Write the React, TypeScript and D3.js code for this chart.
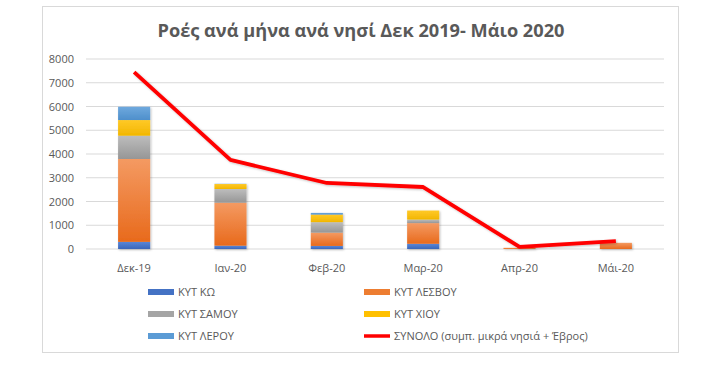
import React from "react";
import * as d3 from "d3";

const categories = ["Δεκ-19", "Ιαν-20", "Φεβ-20", "Μαρ-20", "Απρ-20", "Μάι-20"];
const kos = [300, 140, 130, 220, 0, 0];
const lesvos = [3490, 1810, 560, 870, 50, 260];
const samos = [980, 576, 440, 150, 0, 0];
const chios = [660, 210, 320, 380, 0, 0];
const leros = [560, 10, 70, 0, 0, 0];
const total = [7450, 3750, 2780, 2610, 90, 330];
const yTicks = [0, 1000, 2000, 3000, 4000, 5000, 6000, 7000, 8000];

const seriesNames = ["ΚΥΤ ΚΩ", "ΚΥΤ ΛΕΣΒΟΥ", "ΚΥΤ ΣΑΜΟΥ", "ΚΥΤ ΧΙΟΥ", "ΚΥΤ ΛΕΡΟΥ"];
const lineName = "ΣΥΝΟΛΟ (συμπ. μικρά νησιά + Έβρος)";
const title = "Ροές ανά μήνα ανά νησί Δεκ 2019- Μάιο 2020";

const colors = [
  ["#5A86D6", "#3A66BA"],
  ["#F49A62", "#E86A1C"],
  ["#BDBDBD", "#969696"],
  ["#FFC928", "#F2B600"],
  ["#6FA9DE", "#4E8FCB"],
];
const legendColors = ["#4472C4", "#ED7D31", "#A5A5A5", "#FFC000", "#5B9BD5"];

export default function App() {
  const W = 726, H = 366;
  const x = d3.scaleBand<string>().domain(categories).range([86, 664]).paddingInner(0.667).paddingOuter(0.333);
  const y = d3.scaleLinear().domain([0, 8000]).range([249, 59]);
  const seriesVals = [kos, lesvos, samos, chios, leros];
  const rows = categories.map((c, i) => ({ c, v: seriesVals.map(s => s[i]) }));
  const stack = d3.stack<any>().keys(["0", "1", "2", "3", "4"]).value((d, k) => d.v[+k]);
  const stacked = stack(rows);
  const line = d3.line<number>().x((_, i) => (x(categories[i]) as number) + x.bandwidth() / 2).y(d => y(d));
  const font = "'Open Sans', 'Noto Sans', sans-serif";
  const txt = "#595959";
  const legendItems = [
    { name: seriesNames[0], c: legendColors[0], x: 148, y: 292 },
    { name: seriesNames[1], c: legendColors[1], x: 364, y: 292 },
    { name: seriesNames[2], c: legendColors[2], x: 148, y: 314 },
    { name: seriesNames[3], c: legendColors[3], x: 364, y: 314 },
    { name: seriesNames[4], c: legendColors[4], x: 148, y: 336 },
  ];
  return (
    <svg width={W} height={H} style={{ position: "absolute", left: 0, top: 0, background: "#fff" }} fontFamily={font}>
      <defs>
        {colors.map((c, i) => (
          <linearGradient key={i} id={"g" + i} x1="0" y1="0" x2="0" y2="1">
            <stop offset="0" stopColor={c[0]} />
            <stop offset="1" stopColor={c[1]} />
          </linearGradient>
        ))}
        <filter id="sh" x="-20%" y="-20%" width="140%" height="140%">
          <feDropShadow dx="1" dy="1" stdDeviation="1.2" floodColor="#000" floodOpacity="0.25" />
        </filter>
      </defs>
      <rect x={42.5} y={6.5} width={636} height={346} fill="#fff" stroke="#D9D9D9" strokeWidth={1} />
      <text x={361} y={37} textAnchor="middle" fontSize={18.2} fontWeight={700} fill={txt}>{title}</text>
      {yTicks.map(t => (
        <g key={t}>
          <line x1={86} x2={664} y1={y(t)} y2={y(t)} stroke="#D9D9D9" strokeWidth={1} />
          <text x={74} y={y(t) + 4} textAnchor="end" fontSize={11} fill={txt}>{t}</text>
        </g>
      ))}
      <g filter="url(#sh)">
        {stacked.map((s, si) =>
          s.map((d, i) => {
            const h = y(d[0]) - y(d[1]);
            if (h <= 0) return null;
            return <rect key={si + "-" + i} x={x(categories[i])} y={y(d[1])} width={x.bandwidth()} height={h} fill={`url(#g${si})`} />;
          })
        )}
      </g>
      {categories.map(c => (
        <text key={c} x={(x(c) as number) + x.bandwidth() / 2} y={272} textAnchor="middle" fontSize={11} fill={txt}>{c}</text>
      ))}
      <path d={line(total) || ""} fill="none" stroke="#FF0000" strokeWidth={3.8} strokeLinejoin="round" filter="url(#sh)" />
      {legendItems.map(l => (
        <g key={l.name}>
          <rect x={l.x} y={l.y - 3} width={26} height={6} fill={l.c} />
          <text x={l.x + 30} y={l.y + 4} fontSize={11} fill={txt}>{l.name}</text>
        </g>
      ))}
      <line x1={364} x2={390} y1={336} y2={336} stroke="#FF0000" strokeWidth={3.5} />
      <text x={394} y={340} fontSize={11} fill={txt}>{lineName}</text>
    </svg>
  );
}
